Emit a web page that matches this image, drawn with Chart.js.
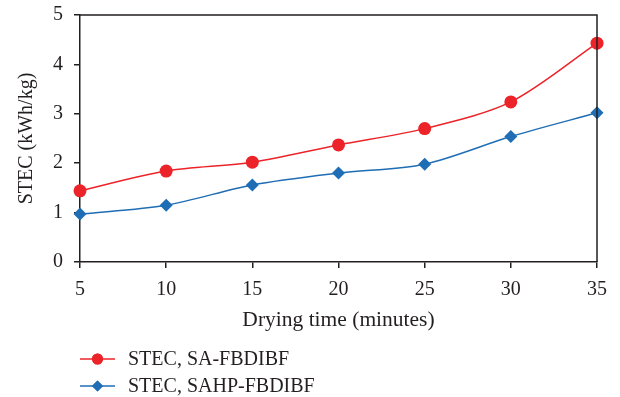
<!DOCTYPE html>
<html>
<head>
<meta charset="utf-8">
<script src="https://cdn.jsdelivr.net/npm/chart.js@4"></script>
<style>
html,body{margin:0;padding:0;background:#fff;}
#wrap{width:620px;height:397px;position:relative;}
</style>
</head>
<body>
<div id="wrap"><canvas id="c" width="620" height="397"></canvas></div>
<script>
const dryingTime = [5, 10, 15, 20, 25, 30, 35];
const stecSA = [1.44, 1.84, 2.02, 2.37, 2.70, 3.24, 4.43];
const stecSAHP = [0.97, 1.15, 1.56, 1.80, 1.98, 2.54, 3.02];
const seriesNames = ['STEC, SA-FBDIBF', 'STEC, SAHP-FBDIBF'];
const xTitle = 'Drying time (minutes)';
const yTitle = 'STEC (kWh/kg)';

const RED = '#ec2328';
const BLUE = '#1f6db4';
const FONT = '"Liberation Serif", "DejaVu Serif", serif';
const FS = 20;

const framePlugin = {
  id: 'frame',
  afterDatasetsDraw(chart) {
    const {ctx, chartArea: a} = chart;
    ctx.save();
    ctx.strokeStyle = '#231f20';
    ctx.lineWidth = 1.5;
    ctx.beginPath();
    ctx.moveTo(a.left, a.top);
    ctx.lineTo(a.right, a.top);
    ctx.lineTo(a.right, a.bottom);
    ctx.stroke();
    ctx.restore();
  }
};

const legendPlugin = {
  id: 'customLegend',
  afterDraw(chart) {
    const {ctx} = chart;
    const items = [
      {name: seriesNames[0], color: RED, style: 'circle', r: 5.5, y: 359},
      {name: seriesNames[1], color: BLUE, style: 'rectRot', r: 5.5, y: 386}
    ];
    ctx.save();
    items.forEach(it => {
      ctx.strokeStyle = it.color;
      ctx.lineWidth = 1.5;
      ctx.beginPath();
      ctx.moveTo(80, it.y);
      ctx.lineTo(115, it.y);
      ctx.stroke();
      ctx.fillStyle = it.color;
      Chart.helpers.drawPoint(ctx, {pointStyle: it.style, radius: it.r, borderWidth: 0}, 97.5, it.y);
      ctx.fill();
      ctx.fillStyle = '#231f20';
      ctx.font = FS + 'px ' + FONT;
      ctx.textBaseline = 'middle';
      ctx.textAlign = 'left';
      ctx.fillText(it.name, 128, it.y + 1);
    });
    ctx.restore();
  }
};

new Chart(document.getElementById('c'), {
  type: 'line',
  data: {
    labels: dryingTime,
    datasets: [
      {
        label: seriesNames[0],
        data: dryingTime.map((x, i) => ({x: x, y: stecSA[i]})),
        borderColor: RED,
        backgroundColor: RED,
        borderWidth: 1.5,
        pointStyle: 'circle',
        pointRadius: 6.5,
        pointBorderWidth: 0,
        tension: 0.3,
        clip: false
      },
      {
        label: seriesNames[1],
        data: dryingTime.map((x, i) => ({x: x, y: stecSAHP[i]})),
        borderColor: BLUE,
        backgroundColor: BLUE,
        borderWidth: 1.5,
        pointStyle: 'rectRot',
        pointRadius: 6.5,
        pointBorderWidth: 0,
        tension: 0.3,
        clip: false
      }
    ]
  },
  options: {
    responsive: false,
    animation: false,
    devicePixelRatio: 1,
    layout: {padding: {left: 0, right: 23, top: 15, bottom: 55}},
    plugins: {legend: {display: false}, tooltip: {enabled: false}},
    scales: {
      x: {
        type: 'linear',
        min: 5, max: 35,
        afterFit(s) { s.height = 80; s.paddingLeft = 0; s.paddingRight = 0; },
        afterBuildTicks(s) { s.ticks = dryingTime.map(v => ({value: v})); },
        ticks: {stepSize: 5, color: '#231f20', padding: 10, font: {family: FONT, size: FS}},
        grid: {display: true, drawOnChartArea: false, drawTicks: true, tickLength: 6, color: '#231f20', lineWidth: 1.5},
        border: {display: true, color: '#231f20', width: 1.5},
        title: {display: true, text: xTitle, color: '#231f20', font: {family: FONT, size: 21.5}, padding: {top: 0, bottom: 9}}
      },
      y: {
        min: 0, max: 5,
        afterFit(s) { s.width = 80; s.paddingTop = 0; s.paddingBottom = 0; },
        ticks: {stepSize: 1, color: '#231f20', padding: 11, font: {family: FONT, size: FS}},
        grid: {display: true, drawOnChartArea: false, drawTicks: true, tickLength: 6, color: '#231f20', lineWidth: 1.5},
        border: {display: true, color: '#231f20', width: 1.5},
        title: {display: true, text: yTitle, color: '#231f20', font: {family: FONT, size: FS}, padding: {top: 15, bottom: 0}}
      }
    }
  },
  plugins: [framePlugin, legendPlugin]
});
</script>
</body>
</html>
